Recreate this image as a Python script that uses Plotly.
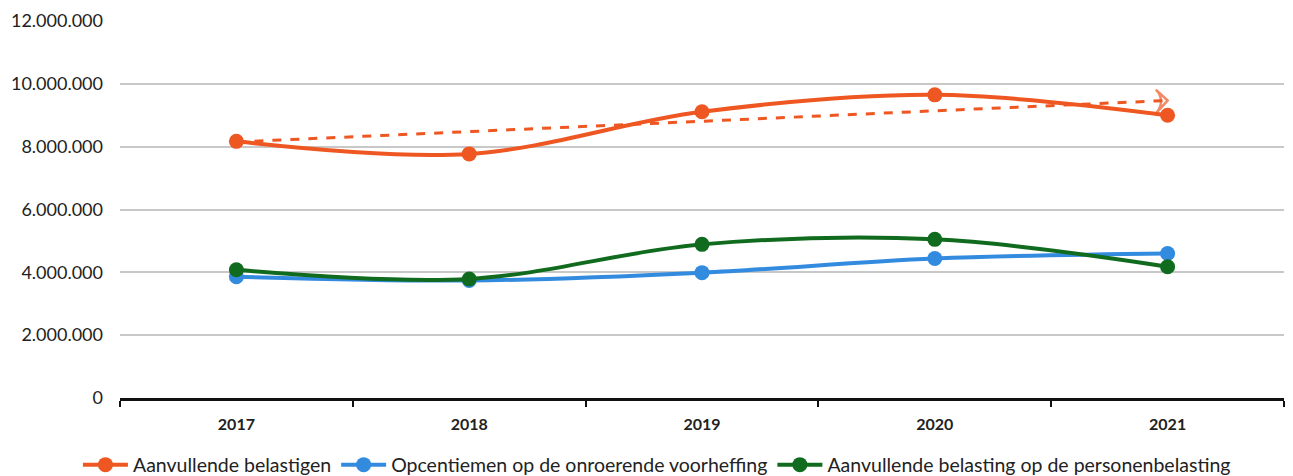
import plotly.graph_objects as go

years = ["2017", "2018", "2019", "2020", "2021"]
aanvullende = [8170000, 7770000, 9110000, 9650000, 9000000]
opcentiemen = [3860000, 3740000, 3990000, 4440000, 4600000]
personen = [4080000, 3790000, 4890000, 5050000, 4180000]
trend_years = ["2017", "2021"]
trend_values = [8150000, 9470000]
y_ticks = [0, 2000000, 4000000, 6000000, 8000000, 10000000, 12000000]

ORANGE = "#EE5722"
BLUE = "#338BE0"
GREEN = "#116B1E"

fig = go.Figure()

# dashed trend arrow (drawn first, below the series)
fig.add_trace(go.Scatter(
    x=trend_years, y=trend_values, mode="lines+markers", showlegend=False,
    line=dict(color=ORANGE, width=3, dash="dash"),
    marker=dict(symbol="arrow-wide-open", size=[0, 16], angleref="previous",
                color=ORANGE, line=dict(color=ORANGE, width=2.5)),
    hoverinfo="skip",
))

def add_series(name, values, color):
    fig.add_trace(go.Scatter(
        x=years, y=values, name=name, mode="lines+markers",
        line=dict(color=color, width=4, shape="spline", smoothing=1),
        marker=dict(color=color, size=15),
    ))

add_series("Aanvullende belastigen", aanvullende, ORANGE)
add_series("Opcentiemen op de onroerende voorheffing", opcentiemen, BLUE)
add_series("Aanvullende belasting op de personenbelasting", personen, GREEN)

fig.update_layout(
    width=1285, height=468,
    margin=dict(l=112, r=9, t=13, b=78, autoexpand=False),
    paper_bgcolor="white", plot_bgcolor="white",
    font=dict(family="Lato", color="#222222"),
    separators=",.",
    legend=dict(orientation="h", xref="container", yref="container",
                y=0.0235, yanchor="middle", x=0.505, xanchor="center",
                font=dict(size=19.5, color="#222222"),
                itemwidth=45, tracegroupgap=0),
    showlegend=True,
)
fig.update_xaxes(
    type="category", categoryorder="array", categoryarray=years, range=[-0.5, 4.5],
    showline=True, linecolor="#111111", linewidth=3,
    ticks="outside", tickson="boundaries", ticklen=6, tickwidth=2, tickcolor="#111111",
    ticklabelstandoff=10, automargin=False,
    tickfont=dict(size=16, family="Lato", weight="bold", color="#222222"),
    showgrid=False, zeroline=False,
)
fig.update_yaxes(
    range=[0, 12000000], tickvals=y_ticks, tickformat=",d",
    showgrid=True, gridcolor="#C8C8C8", gridwidth=1.5,
    zeroline=False, showline=False, ticks="",
    ticklabelstandoff=16, automargin=False, ticklabeloverflow="allow",
    tickfont=dict(size=18, family="Lato", color="#222222"),
)

fig.write_html("out.html")
